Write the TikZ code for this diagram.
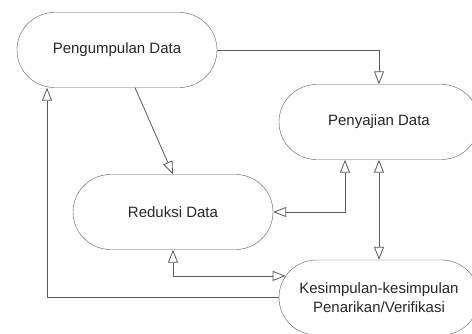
\documentclass[tikz,border=0pt]{standalone}
\usepackage{fontspec}
\setmainfont{Liberation Sans}
\usetikzlibrary{shapes.misc,arrows.meta}
\begin{document}
\begin{tikzpicture}[x=1pt, y=-1pt,
    every node/.style = {shape=rounded rectangle, draw=black!65, align=center,
      minimum width=200pt, minimum height=75pt, inner sep=0pt,
      font=\fontsize{15pt}{19pt}\selectfont, text=black!85},
    flowArrow/.style = {draw=black!65, line width=0.8pt,
      -{Triangle[open, length=13pt, width=10pt]}},
    flowBoth/.style = {flowArrow, {Triangle[open, length=13pt, width=10pt]}-{Triangle[open, length=13pt, width=10pt]}},
    ]
    \useasboundingbox (0,0) rectangle (472,333);
    \node (pengumpulan) at (117,50) {Pengumpulan Data};
    \node (penyajian) at (379,122) {Penyajian Data};
    \node (reduksi) at (173,212) {Reduksi Data};
    \node (kesimpulan) at (379,297.5) {Kesimpulan-kesimpulan\\Penarikan/Verifikasi};
    \draw[flowArrow] (pengumpulan.east) -| (penyajian.north);
    \draw[flowArrow] ([xshift=18pt]pengumpulan.south) -- (reduksi.north);
    \draw[flowBoth] (reduksi.east) -| ([xshift=-34pt]penyajian.south);
    \draw[flowBoth] (penyajian.south) -- (kesimpulan.north);
    \draw[flowBoth] (reduksi.south) |- (kesimpulan.167);
    \draw[flowArrow] (kesimpulan.west) -| ([xshift=-70pt]pengumpulan.south);
\end{tikzpicture}
\end{document}
